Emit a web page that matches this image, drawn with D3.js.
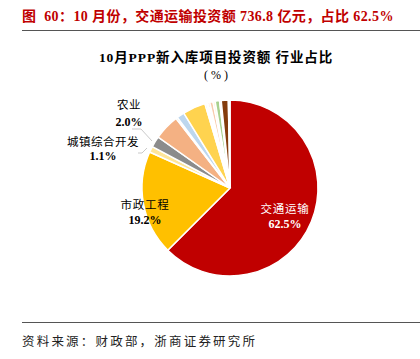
<!DOCTYPE html>
<html>
<head>
<meta charset="utf-8">
<script src="https://cdn.jsdelivr.net/npm/d3@7"></script>
<style>
  body { margin: 0; background: #fff; }
  text { font-family: "Liberation Serif", "Noto Sans CJK SC", serif; }
</style>
</head>
<body>
<div class="canvas"></div>
<script>
// sectors, clockwise from 12 o'clock
const sectors = ['交通运输', '市政工程', '城镇综合开发', '农业', 'a', 'b', 'c', 'd', 'e', 'f', 'g', 'h', 'i', 'j', 'k', 'l', 'm'];
const shares = [62.5, 19.2, 1.1, 2.0, 4.7, 0.3, 1.4, 4.2, 0.3, 0.3, 0.3, 0.6, 0.4, 0.8, 0.3, 1.3, 0.3];
const colors = ['#C00000', '#FFC000', '#FFE699', '#8C8C8C', '#F4B183', '#548235', '#BDD7EE', '#FFD34F',
  '#A9D18E', '#FFFFFF', '#ED7D31', '#F8CBAD', '#FFF2CC', '#A9D18E', '#FBE5D6', '#843C0C', '#FFFFFF'];

const svg = d3.select('.canvas')
  .append('svg')
  .attr('width', 420)
  .attr('height', 359);

// header
svg.append('text')
  .attr('x', 22).attr('y', 21)
  .attr('fill', '#C00000')
  .attr('font-size', 14)
  .attr('font-weight', 'bold')
  .attr('letter-spacing', 0.4)
  .attr('xml:space', 'preserve')
  .text('图  60：10 月份，交通运输投资额 736.8 亿元，占比 62.5%');

svg.append('line')
  .attr('x1', 22).attr('x2', 420).attr('y1', 30.5).attr('y2', 30.5)
  .attr('stroke', '#555').attr('stroke-width', 1);

// chart title
svg.append('text')
  .attr('x', 216).attr('y', 62)
  .attr('text-anchor', 'middle')
  .attr('font-size', 13.5)
  .attr('font-weight', 'bold')
  .attr('letter-spacing', 0.9)
  .text('10月PPP新入库项目投资额 行业占比');
svg.append('text')
  .attr('x', 216).attr('y', 79)
  .attr('text-anchor', 'middle')
  .attr('font-size', 12)
  .text('( % )');

// pie
const cx = 230, cy = 188, r = 88;
const pie = d3.pie().sort(null).value(d => d)(shares);
const arc = d3.arc().innerRadius(0).outerRadius(r);

const graph = svg.append('g')
  .attr('transform', `translate(${cx},${cy})`);

graph.selectAll('path')
  .data(pie)
  .enter()
  .append('path')
  .attr('d', arc)
  .attr('fill', (d, i) => colors[i])
  .attr('stroke', '#fff')
  .attr('stroke-width', 1.5);

// inside labels
graph.append('text')
  .attr('x', 55).attr('y', 25)
  .attr('text-anchor', 'middle')
  .attr('fill', '#fff').attr('font-size', 11.5)
  .attr('letter-spacing', 0.8)
  .text('交通运输');
graph.append('text')
  .attr('x', 55).attr('y', 40)
  .attr('text-anchor', 'middle')
  .attr('fill', '#fff').attr('font-size', 12).attr('font-weight', 'bold')
  .text(shares[0].toFixed(1) + '%');

graph.append('text')
  .attr('x', -85).attr('y', 21)
  .attr('text-anchor', 'middle')
  .attr('fill', '#000').attr('font-size', 11.5)
  .attr('letter-spacing', 0.8)
  .text('市政工程');
graph.append('text')
  .attr('x', -85).attr('y', 36)
  .attr('text-anchor', 'middle')
  .attr('fill', '#000').attr('font-size', 12).attr('font-weight', 'bold')
  .text(shares[1].toFixed(1) + '%');

// outside labels with leader lines
const outside = [
  { i: 3, lx: 129, ly1: 109, ly2: 126, line: [[132, 129], [141, 129], [152, 141]] },
  { i: 2, lx: 103, ly1: 146, ly2: 160, line: [[138, 153], [142, 153], [147, 148]] }
];
outside.forEach(o => {
  svg.append('text')
    .attr('x', o.lx).attr('y', o.ly1)
    .attr('text-anchor', 'middle')
    .attr('font-size', 11.5)
    .attr('letter-spacing', 0.5)
    .text(sectors[o.i]);
  svg.append('text')
    .attr('x', o.lx).attr('y', o.ly2)
    .attr('text-anchor', 'middle')
    .attr('font-size', 12).attr('font-weight', 'bold')
    .text(shares[o.i].toFixed(1) + '%');
  svg.append('path')
    .attr('d', d3.line()(o.line))
    .attr('fill', 'none')
    .attr('stroke', '#bbb')
    .attr('stroke-width', 0.8);
});

// footer
svg.append('line')
  .attr('x1', 22).attr('x2', 420).attr('y1', 322.5).attr('y2', 322.5)
  .attr('stroke', '#555').attr('stroke-width', 1);
svg.append('text')
  .attr('x', 22).attr('y', 346)
  .attr('font-size', 12.5)
  .attr('fill', '#222')
  .attr('letter-spacing', 2.2)
  .text('资料来源：财政部，浙商证券研究所');
</script>
</body>
</html>
